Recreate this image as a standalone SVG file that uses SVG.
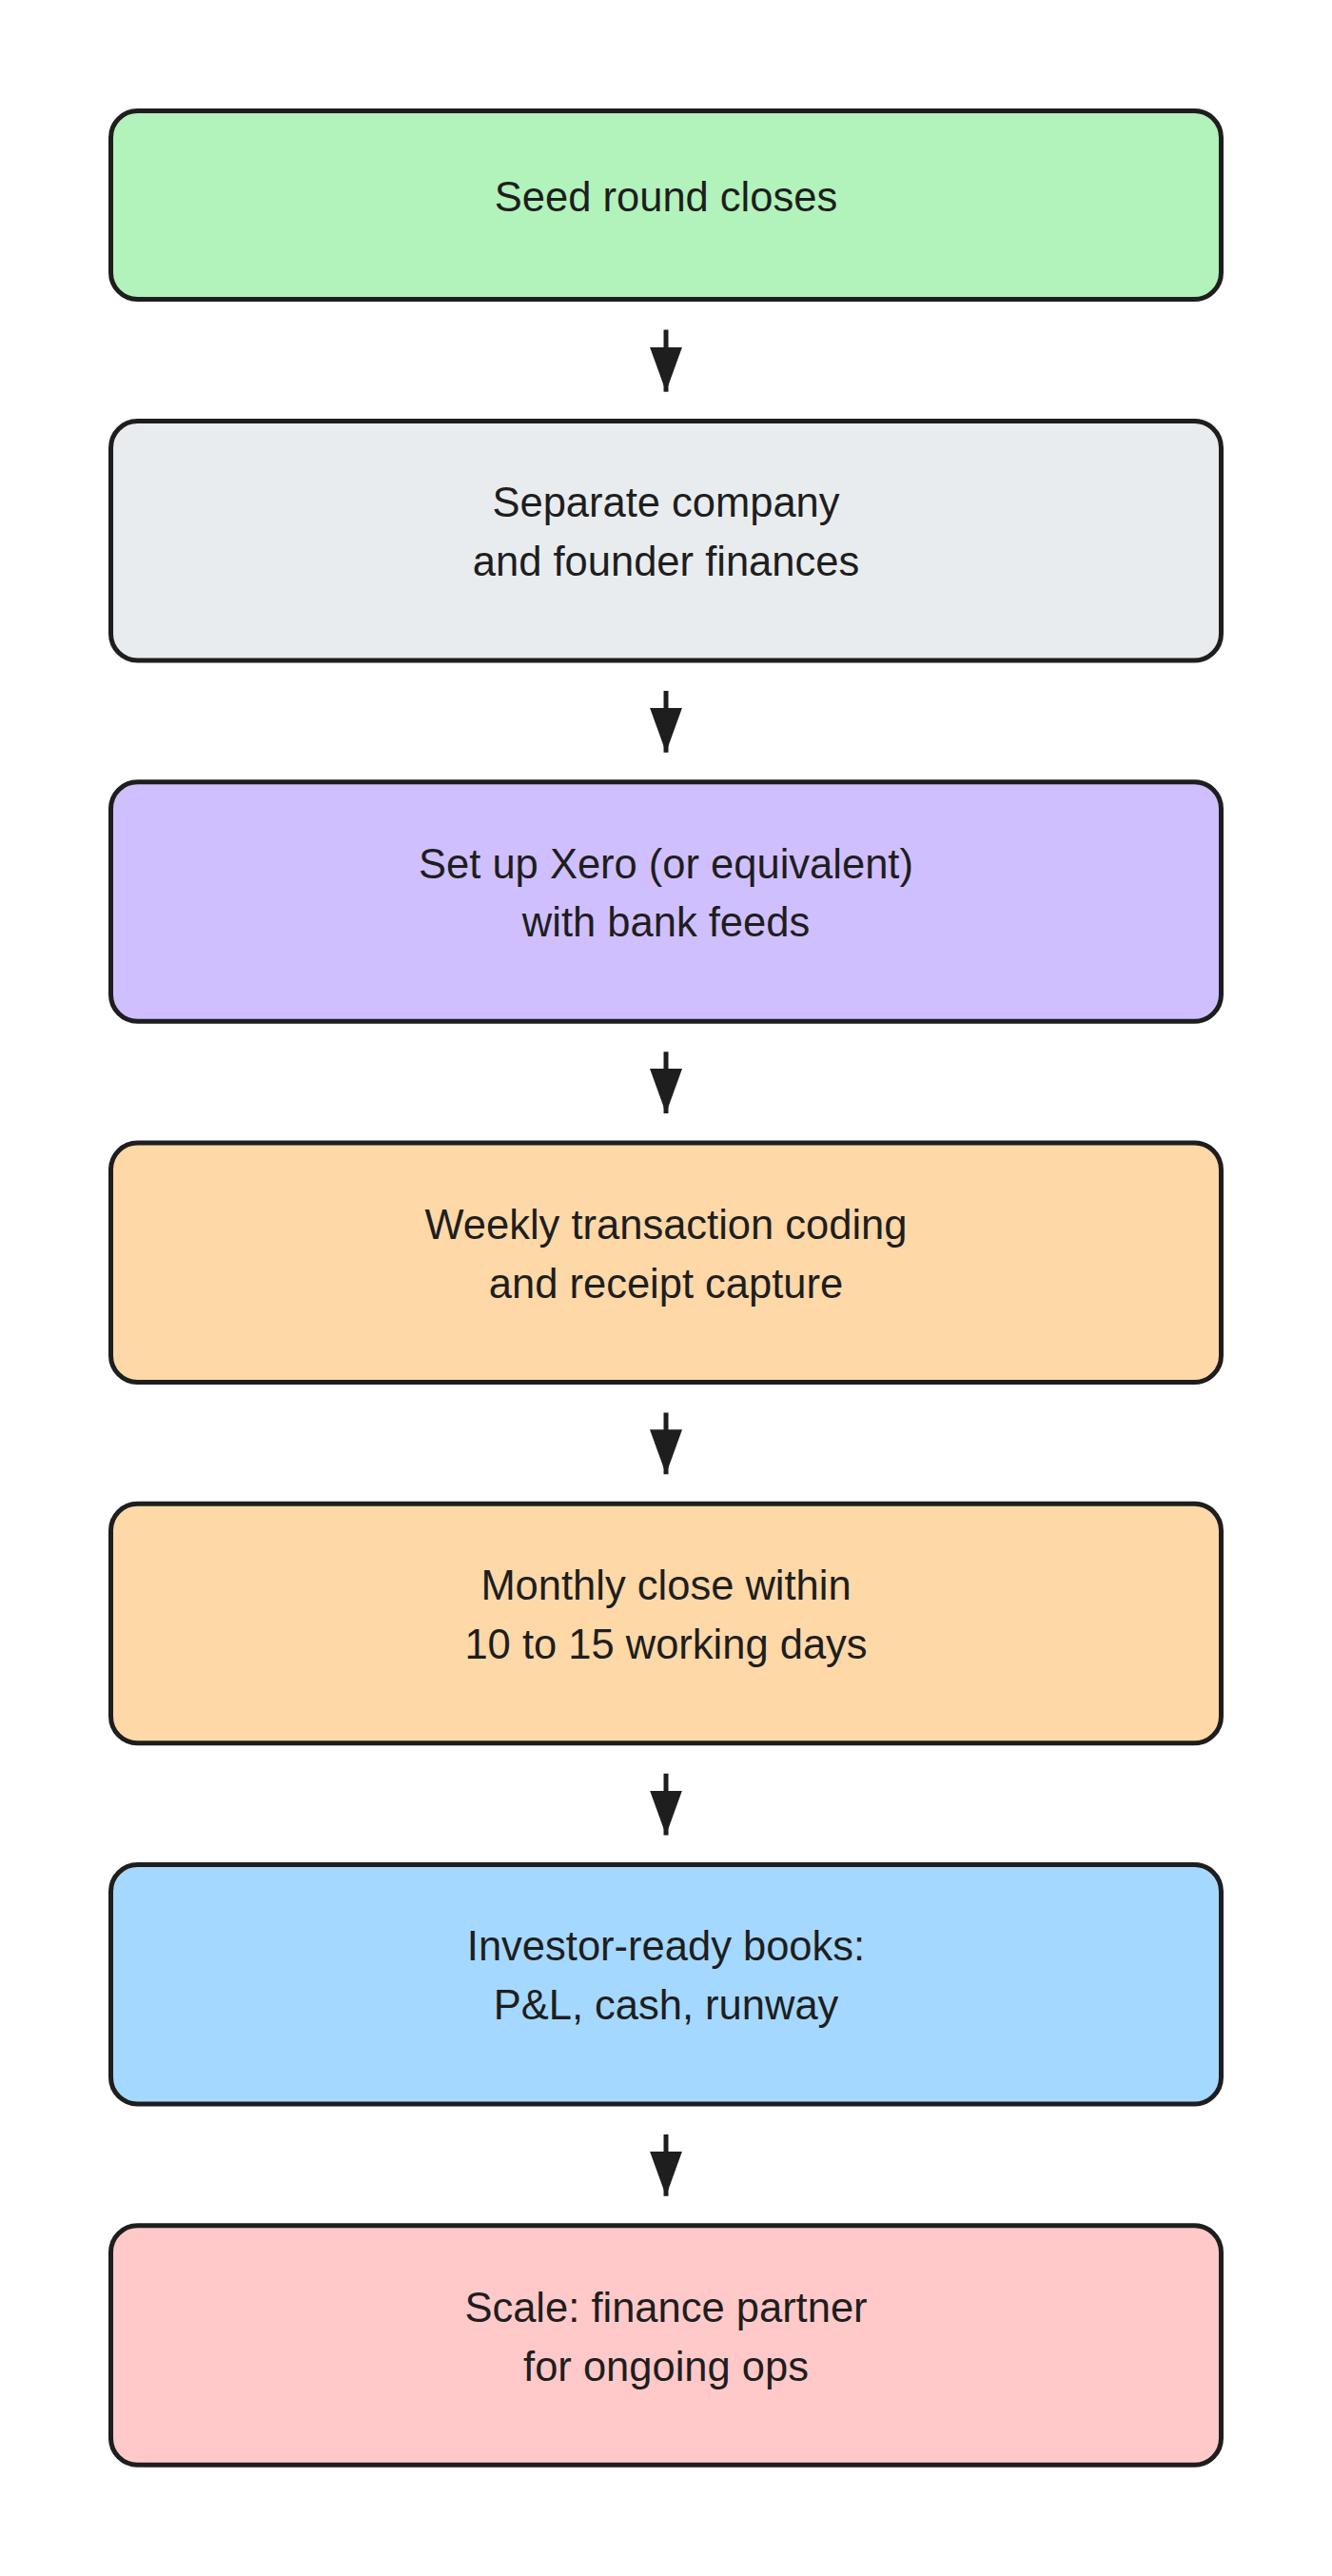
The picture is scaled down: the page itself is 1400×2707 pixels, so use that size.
<svg xmlns="http://www.w3.org/2000/svg" width="1400" height="2707" viewBox="0 0 1400 2707">
<style>
.box{stroke:#1e1e1e;stroke-width:5}
.lbl{font-family:"Liberation Sans",Arial,sans-serif;font-size:43.5px;fill:#1e1e1e;text-anchor:middle}
.edge{stroke:#1e1e1e;stroke-width:5;fill:none;marker-end:url(#arr)}
</style>
<defs>
<marker id="arr" markerUnits="userSpaceOnUse" markerWidth="48" markerHeight="34" refX="47" refY="17" orient="auto" viewBox="0 0 48 34">
<path d="M0,0 L47,17 L0,34 Z" fill="#1e1e1e"/>
</marker>
</defs>
<rect width="1400" height="2707" fill="#ffffff"/>
<g id="n1">
<rect class="box" x="116.5" y="116.5" width="1167" height="198" rx="28" fill="#b2f2bb"/>
<text class="lbl" x="700" y="221.5">Seed round closes</text>
</g>
<g id="n2">
<rect class="box" x="116.5" y="442.5" width="1167" height="251.5" rx="28" fill="#e9ecef"/>
<text class="lbl" x="700" y="543.3">Separate company</text>
<text class="lbl" x="700" y="605">and founder finances</text>
</g>
<g id="n3">
<rect class="box" x="116.5" y="821.75" width="1167" height="251.5" rx="28" fill="#d0bfff"/>
<text class="lbl" x="700" y="922.5">Set up Xero (or equivalent)</text>
<text class="lbl" x="700" y="984.2">with bank feeds</text>
</g>
<g id="n4">
<rect class="box" x="116.5" y="1201" width="1167" height="251.5" rx="28" fill="#ffd8a8"/>
<text class="lbl" x="700" y="1301.8">Weekly transaction coding</text>
<text class="lbl" x="700" y="1363.5">and receipt capture</text>
</g>
<g id="n5">
<rect class="box" x="116.5" y="1580.25" width="1167" height="251.5" rx="28" fill="#ffd8a8"/>
<text class="lbl" x="700" y="1681">Monthly close within</text>
<text class="lbl" x="700" y="1742.7">10 to 15 working days</text>
</g>
<g id="n6">
<rect class="box" x="116.5" y="1959.5" width="1167" height="251.5" rx="28" fill="#a5d8ff"/>
<text class="lbl" x="700" y="2060.3">Investor-ready books:</text>
<text class="lbl" x="700" y="2122">P&amp;L, cash, runway</text>
</g>
<g id="n7">
<rect class="box" x="116.5" y="2338.75" width="1167" height="251.5" rx="28" fill="#ffc9c9"/>
<text class="lbl" x="700" y="2440">Scale: finance partner</text>
<text class="lbl" x="700" y="2501.7">for ongoing ops</text>
</g>
<g id="edges">
<path class="edge" d="M700,346.5 L700,411.7"/>
<path class="edge" d="M700,726 L700,790.75"/>
<path class="edge" d="M700,1105.25 L700,1170"/>
<path class="edge" d="M700,1484.5 L700,1549.25"/>
<path class="edge" d="M700,1863.75 L700,1928.5"/>
<path class="edge" d="M700,2243 L700,2307.75"/>
</g>
</svg>
